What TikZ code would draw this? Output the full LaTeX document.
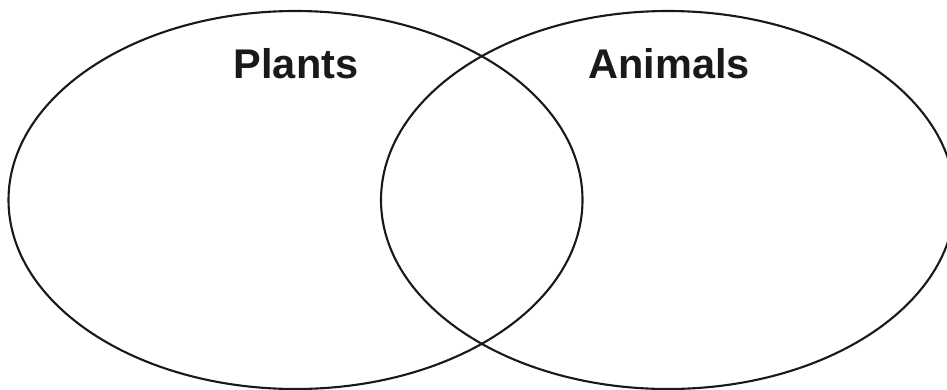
\documentclass[tikz,border=0pt]{standalone}
\usepackage{fontspec}
\setmainfont{Liberation Sans}
\usetikzlibrary{shapes.geometric}
\tikzset{
  setoval/.style={ellipse, draw=black!90, line width=0.6pt, inner sep=0pt,
                  minimum width=5.74cm, minimum height=3.78cm},
  setname/.style={font=\fontsize{11.8}{14}\selectfont\bfseries, text=black!90,
                  inner sep=0pt},
}
\begin{document}
\begin{tikzpicture}
    % Frame of the picture
    \useasboundingbox (0,0) rectangle (9.47,3.89);
    \clip (0,0) rectangle (9.47,3.89);
    % The two sets
    \node[setoval] (plants)  at (2.955,1.89) {};
    \node[setoval] (animals) at (6.68,1.89)  {};
    % Set names
    \node[setname] (plantsname)  at (2.96,3.255) {Plants};
    \node[setname] (animalsname) at (6.69,3.255) {Animals};
\end{tikzpicture}
\end{document}
